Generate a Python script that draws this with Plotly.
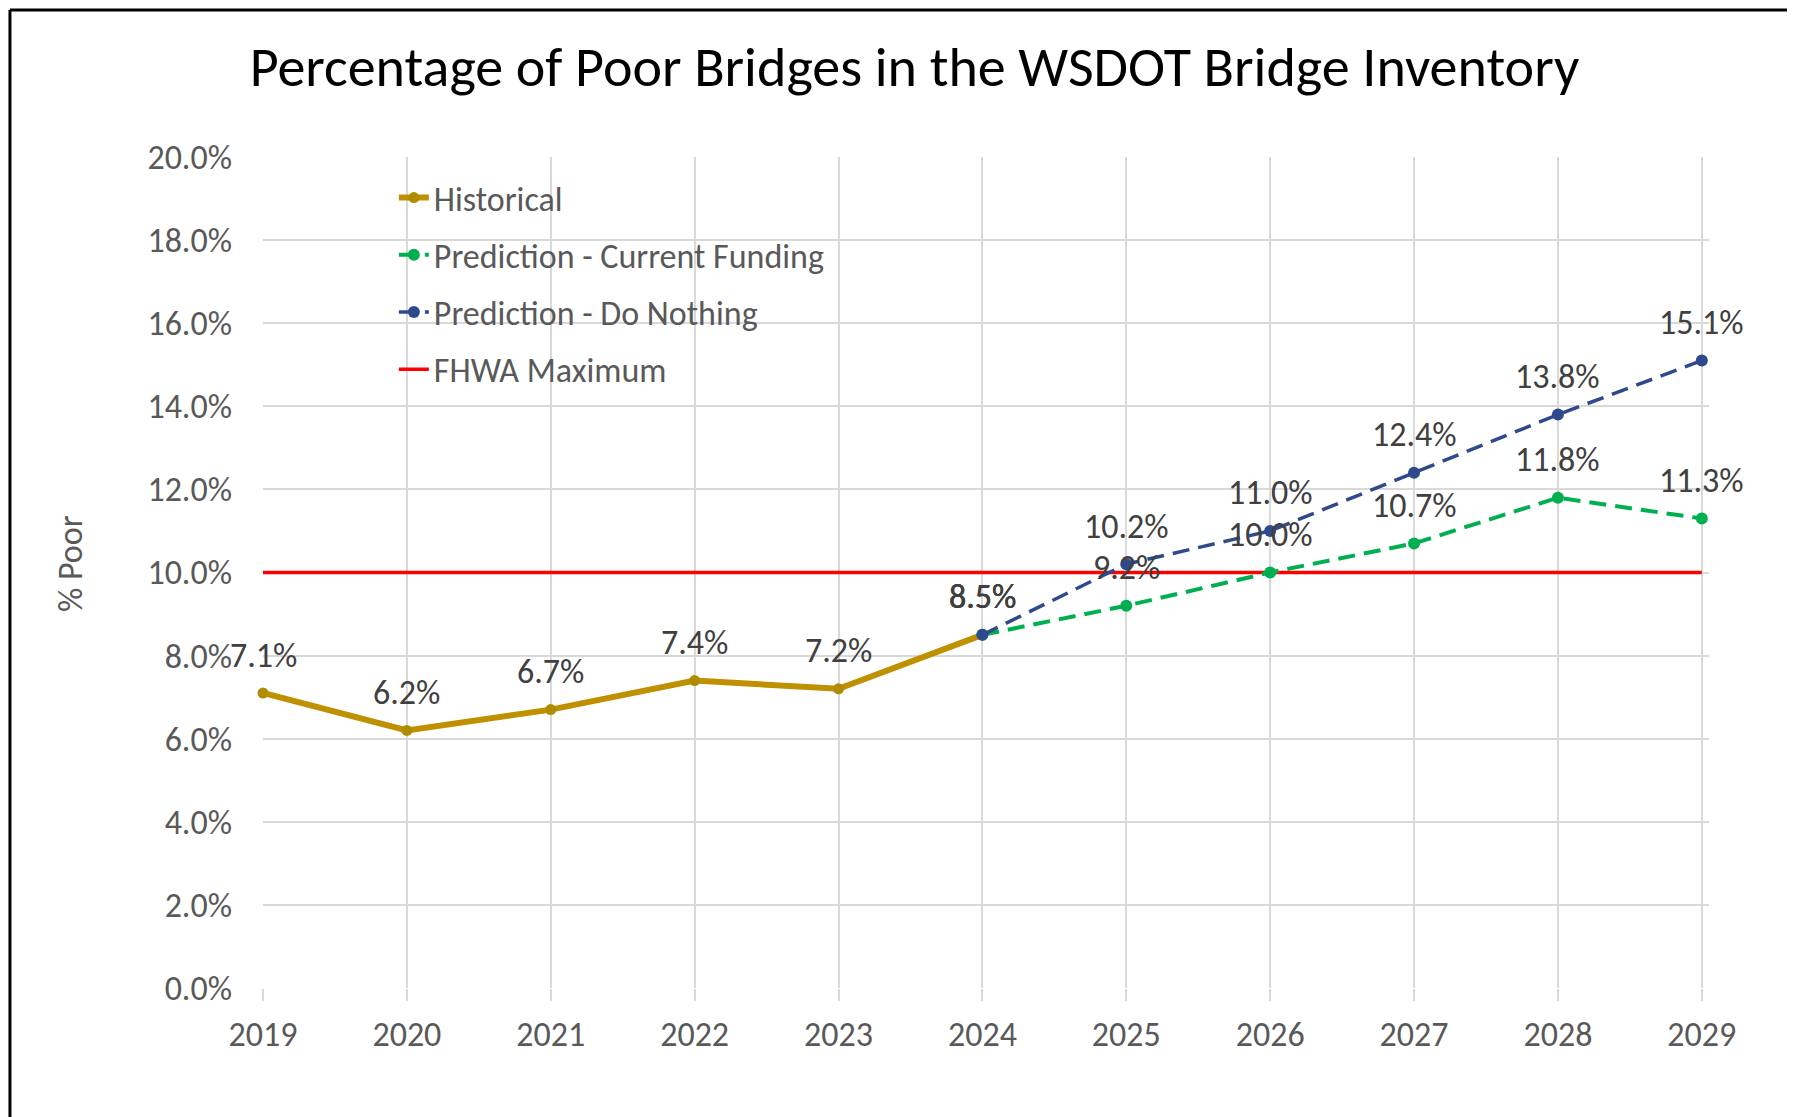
import plotly.graph_objects as go

# Data
years_hist = [2019, 2020, 2021, 2022, 2023, 2024]
historical = [7.1, 6.2, 6.7, 7.4, 7.2, 8.5]

years_pred = [2024, 2025, 2026, 2027, 2028, 2029]
current_funding = [8.5, 9.2, 10.0, 10.7, 11.8, 11.3]
do_nothing = [8.5, 10.2, 11.0, 12.4, 13.8, 15.1]

years_all = [2019, 2020, 2021, 2022, 2023, 2024, 2025, 2026, 2027, 2028, 2029]
fhwa_max = [10.0] * len(years_all)

y_ticks = [0, 2, 4, 6, 8, 10, 12, 14, 16, 18, 20]

FONT = "Carlito, 'Liberation Sans Narrow', Lato, sans-serif"
GOLD = "#BF9000"
GREEN = "#00B050"
NAVY = "#2F4A8C"
RED = "#FF0000"
GRID = "#D9D9D9"

fig = go.Figure()

fig.add_trace(go.Scatter(
    x=years_all, y=fhwa_max, mode="lines", name="FHWA Maximum",
    line=dict(color=RED, width=3.5), legendrank=4, legendgroup="d",
))
fig.add_trace(go.Scatter(
    x=years_hist, y=historical, mode="lines+markers", name="Historical",
    line=dict(color=GOLD, width=6), marker=dict(size=11, color="#B08C00"),
    legendrank=1, legendgroup="a", cliponaxis=False,
))
fig.add_trace(go.Scatter(
    x=years_pred, y=current_funding, mode="lines+markers",
    name="Prediction - Current Funding",
    line=dict(color=GREEN, width=4, dash="17px,9px"), marker=dict(size=12, color=GREEN),
    legendrank=2, legendgroup="b", cliponaxis=False,
))
fig.add_trace(go.Scatter(
    x=years_pred, y=do_nothing, mode="lines+markers",
    name="Prediction - Do Nothing",
    line=dict(color=NAVY, width=3.5, dash="17px,9px"), marker=dict(size=12, color=NAVY),
    legendrank=3, legendgroup="c", cliponaxis=False,
))

# data labels above the points
annotations = []
for xs, ys in [(years_hist, historical), (years_pred, current_funding), (years_pred, do_nothing)]:
    for x, y in zip(xs, ys):
        annotations.append(dict(
            x=x, y=y, xref="x", yref="y", text=f"{y:.1f}%", showarrow=False,
            yshift=38, font=dict(family=FONT, size=34, color="#404040"),
        ))

# y-axis title
annotations.append(dict(
    x=-0.133, y=0.511, xref="paper", yref="paper", text="% Poor", showarrow=False,
    xanchor="center", yanchor="middle", textangle=-90,
    font=dict(family=FONT, size=34, color="#595959"),
))

# left and top frame
shapes = [
    dict(type="line", xref="paper", yref="paper", x0=-0.175, x1=-0.175, y0=1.177, y1=-0.2,
         line=dict(color="black", width=3)),
    dict(type="line", xref="paper", yref="paper", x0=-0.175, x1=1.08, y0=1.177, y1=1.177,
         line=dict(color="black", width=3)),
]

fig.update_layout(
    width=1795, height=1117,
    margin=dict(l=255, r=94, t=149, b=137),
    paper_bgcolor="white", plot_bgcolor="white",
    font=dict(family=FONT, color="#595959"),
    title=dict(
        text="Percentage of Poor Bridges in the WSDOT Bridge Inventory",
        x=0.505, xanchor="center", y=0.948, yanchor="middle",
        font=dict(family=FONT, size=56, color="#000000"),
    ),
    legend=dict(
        x=0.0905, y=0.9856, xanchor="left", yanchor="top",
        traceorder="grouped", tracegroupgap=10,
        font=dict(family=FONT, size=34, color="#595959"),
        bgcolor="rgba(255,255,255,0)",
    ),
    annotations=annotations,
    shapes=shapes,
)

fig.update_xaxes(
    range=[2019, 2029.05], tickmode="array", tickvals=years_all,
    showgrid=True, gridcolor=GRID, gridwidth=2,
    zeroline=False, showline=False,
    ticks="outside", ticklen=12, tickcolor=GRID, tickwidth=2,
    ticklabelstandoff=4,
    tickfont=dict(family=FONT, size=34, color="#595959"),
)
fig.update_yaxes(
    range=[0, 20], tickmode="array", tickvals=y_ticks,
    ticktext=[f"{v:.1f}%" for v in y_ticks],
    showgrid=True, gridcolor=GRID, gridwidth=2,
    zeroline=False, showline=False,
    ticklabelstandoff=30,
    tickfont=dict(family=FONT, size=34, color="#595959"),
)

fig.write_html("out.html")
